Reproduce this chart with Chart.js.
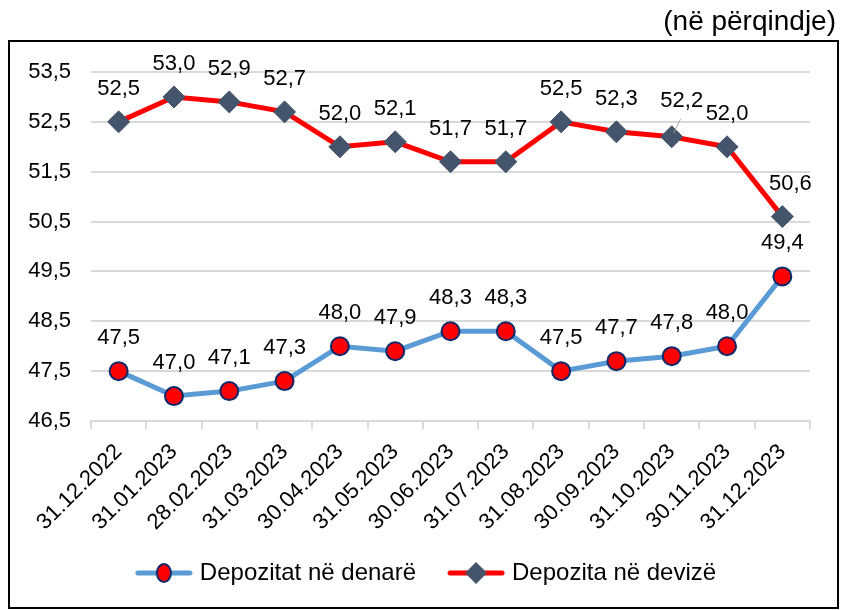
<!DOCTYPE html>
<html lang="sq">
<head>
  <meta charset="UTF-8">
  <title>Depozitat</title>
  <script src="https://cdn.jsdelivr.net/npm/chart.js@4/dist/chart.umd.min.js"></script>
  <style>
    html, body { margin: 0; padding: 0; background: #fff; }
    #wrap { width: 841px; height: 610px; }
  </style>
</head>
<body>
  <div id="wrap"><canvas id="chart"></canvas></div>
  <script>
    // data
    const dates = ['31.12.2022', '31.01.2023', '28.02.2023', '31.03.2023', '30.04.2023', '31.05.2023',
      '30.06.2023', '31.07.2023', '31.08.2023', '30.09.2023', '31.10.2023', '30.11.2023', '31.12.2023'];
    const denare = [47.5, 47.0, 47.1, 47.3, 48.0, 47.9, 48.3, 48.3, 47.5, 47.7, 47.8, 48.0, 49.4];
    const devize = [52.5, 53.0, 52.9, 52.7, 52.0, 52.1, 51.7, 51.7, 52.5, 52.3, 52.2, 52.0, 50.6];
    const yTicks = [46.5, 47.5, 48.5, 49.5, 50.5, 51.5, 52.5, 53.5];

    const FONT = "'Liberation Sans', Arial, sans-serif";
    const BLUE = '#5B9BD5';
    const RED = '#FF0000';
    const SLATE = '#44546A';
    const NAVY = '#0E2A6B';

    const fmt = v => v.toFixed(1).replace('.', ',');

    // line+marker icons for the legend (blank on the left gives the gap between items)
    function legendIcon(lineColor, shape) {
      const c = document.createElement('canvas');
      c.width = 84; c.height = 24;
      const g = c.getContext('2d');
      g.strokeStyle = lineColor; g.lineWidth = 5; g.lineCap = 'round';
      g.beginPath(); g.moveTo(29, 12); g.lineTo(81, 12); g.stroke();
      const cx = 55;
      if (shape === 'circle') {
        g.fillStyle = RED; g.strokeStyle = NAVY; g.lineWidth = 2;
        g.beginPath(); g.ellipse(cx, 12, 7, 9, 0, 0, Math.PI * 2); g.fill(); g.stroke();
      } else {
        g.fillStyle = SLATE;
        g.beginPath(); g.moveTo(cx, 1); g.lineTo(cx + 11, 12); g.lineTo(cx, 23); g.lineTo(cx - 11, 12); g.closePath(); g.fill();
      }
      return c;
    }
    const icons = [legendIcon(BLUE, 'circle'), legendIcon(RED, 'diamond')];

    const frame = {
      id: 'frame',
      beforeDraw(chart) {
        const ctx = chart.ctx;
        ctx.save();
        ctx.strokeStyle = '#000';
        ctx.lineWidth = 2;
        ctx.strokeRect(9, 41, 829, 567);
        ctx.fillStyle = '#000';
        ctx.font = '28px ' + FONT;
        ctx.textAlign = 'right';
        ctx.textBaseline = 'middle';
        ctx.fillText('(në përqindje)', 836, 22);
        ctx.restore();
      }
    };

    const valueLabels = {
      id: 'valueLabels',
      afterDatasetsDraw(chart) {
        const ctx = chart.ctx;
        ctx.save();
        ctx.fillStyle = '#000';
        ctx.font = '22px ' + FONT;
        ctx.textAlign = 'center';
        ctx.textBaseline = 'middle';
        chart.data.datasets.forEach((ds, i) => {
          chart.getDatasetMeta(i).data.forEach((pt, j) => {
            let x = pt.x, y = pt.y - 33;
            if (i === 1 && j === 10) {
              // this one sits a bit off with a leader line
              ctx.strokeStyle = '#A6A6A6';
              ctx.lineWidth = 1;
              ctx.beginPath(); ctx.moveTo(pt.x + 2, pt.y - 4); ctx.lineTo(pt.x + 9, pt.y - 18); ctx.stroke();
              x = pt.x + 10; y = pt.y - 36;
            }
            if (i === 1 && j === 12) x = pt.x + 8;
            ctx.fillText(fmt(ds.data[j]), x, y);
          });
        });
        ctx.restore();
      }
    };

    new Chart(document.getElementById('chart'), {
      type: 'line',
      data: {
        labels: dates,
        datasets: [
          {
            label: 'Depozitat në denarë',
            data: denare,
            borderColor: BLUE,
            borderWidth: 5,
            pointStyle: 'circle',
            pointRadius: 9,
            pointBackgroundColor: RED,
            pointBorderColor: NAVY,
            pointBorderWidth: 2,
            tension: 0
          },
          {
            label: 'Depozita në devizë',
            data: devize,
            borderColor: RED,
            borderWidth: 5,
            pointStyle: 'rectRot',
            pointRadius: 11,
            pointBackgroundColor: SLATE,
            pointBorderColor: SLATE,
            pointBorderWidth: 1,
            tension: 0
          }
        ]
      },
      options: {
        responsive: true,
        maintainAspectRatio: false,
        animation: false,
        layout: { padding: { left: 20, right: 31, top: 72, bottom: 15 } },
        scales: {
          x: {
            offset: true,
            grid: { display: true, offset: true, drawOnChartArea: false, color: '#D9D9D9', lineWidth: 2, tickLength: 8 },
            border: { display: true, color: '#D9D9D9', width: 2 },
            ticks: { color: '#000', font: { family: FONT, size: 22 }, minRotation: 45, maxRotation: 45, padding: 10 },
            afterFit(scale) { scale.height = 130; }
          },
          y: {
            min: 46.5,
            max: 53.5,
            afterBuildTicks(scale) { scale.ticks = yTicks.map(v => ({ value: v })); },
            grid: { color: '#D9D9D9', lineWidth: 2, drawTicks: false },
            border: { display: false },
            ticks: { color: '#000', font: { family: FONT, size: 22 }, padding: 20, callback: v => fmt(v) },
            afterFit(scale) { scale.width = 71; }
          }
        },
        plugins: {
          tooltip: { enabled: false },
          legend: {
            position: 'bottom',
            labels: {
              color: '#000',
              font: { family: FONT, size: 24 },
              usePointStyle: true,
              pointStyleWidth: 74,
              padding: 10,
              generateLabels(chart) {
                return chart.data.datasets.map((ds, i) => ({
                  text: ds.label,
                  pointStyle: icons[i],
                  datasetIndex: i,
                  fontColor: '#000',
                  lineWidth: 0,
                  hidden: false
                }));
              }
            }
          }
        }
      },
      plugins: [frame, valueLabels]
    });
  </script>
</body>
</html>
